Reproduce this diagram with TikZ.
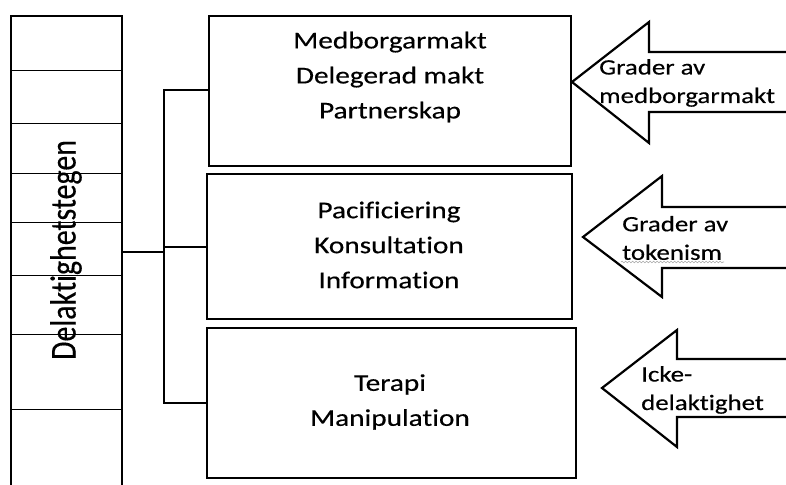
\documentclass[tikz,border=0pt]{standalone}
\usepackage{fontspec}
\setmainfont{Carlito}
\newfontfamily\boxfont[FakeStretch=1.22, FakeBold=0.4, Ligatures={NoCommon}]{Carlito}
\newfontfamily\ladfont[FakeStretch=0.82, FakeBold=0.3, Ligatures={NoCommon}]{Carlito}
\usetikzlibrary{decorations.pathmorphing}
\tikzset{
  rung/.style={line width=0.9pt},
  conn/.style={line width=1.8pt},
  levelbox/.style={draw, line width=2.4pt, anchor=north west, inner sep=0pt},
  boxtext/.style={align=center, font=\boxfont\fontsize{24}{35}\selectfont},
  arrowtext/.style={align=left, anchor=west, inner sep=0pt, font=\boxfont\fontsize{22}{28.5}\selectfont},
  blockarrow/.style={line width=2.2pt, line join=miter},
}
\begin{document}
\begin{tikzpicture}[x=1pt,y=-1pt]
\useasboundingbox (0,0) rectangle (786,484);
% ladder
\node[draw, line width=2.2pt, anchor=north west, minimum width=111pt, minimum height=480pt, inner sep=0pt] (ladder) at (10,15) {};
\foreach \yy in {70,123,173,222,275,334,409} {
  \draw[rung] (ladder.west |- 0,\yy) -- (ladder.east |- 0,\yy);
}
\node[rotate=90, font=\ladfont\fontsize{36.5}{40}\selectfont, inner sep=0pt] (ladtext) at (66,250) {Delaktighetstegen};
% boxes
\node[levelbox, minimum width=362pt, minimum height=150pt] (b1) at (208,15) {};
\node[levelbox, minimum width=365pt, minimum height=145pt] (b2) at (206,173) {};
\node[levelbox, minimum width=369pt, minimum height=150pt] (b3) at (206,327) {};
\node[boxtext] (t1) at (390,77) {Medborgarmakt\\Delegerad makt\\Partnerskap};
\node[boxtext] (t2) at (389,245) {Pacificiering\\Konsultation\\Information};
\node[boxtext] (t3) at (390,402) {Terapi\\Manipulation};
% connectors
\coordinate (j0) at (164,252);
\coordinate (jt) at (164,90);
\coordinate (jm) at (164,247);
\coordinate (jb) at (164,403);
\draw[conn] (ladder.east |- j0) -- (j0);
\draw[conn] (b1.west |- jt) -- (jt) -- (jb) -- (b3.west |- jb);
\draw[conn] (jm) -- (b2.west |- jm);
% arrows
\draw[blockarrow] (790,52) -- (649,52) -- (649,22) -- (572,82) -- (649,143) -- (649,112) -- (790,112);
\node[arrowtext] (a1) at (599,83) {Grader av\\medborgarmakt};
\draw[blockarrow] (790,207) -- (662,207) -- (662,176) -- (583,237) -- (662,297) -- (662,268) -- (790,268);
\node[arrowtext] (a2) at (622,238) {Grader av\\tokenism};
\draw[gray!70, line width=0.6pt, decorate, decoration={snake, amplitude=0.8pt, segment length=3.5pt}] (621,262) -- (724,262);
\draw[blockarrow] (790,359) -- (677,359) -- (677,330) -- (602,388) -- (677,447) -- (677,417) -- (790,417);
\node[arrowtext] (a3) at (641,390) {Icke-\\delaktighet};
\end{tikzpicture}
\end{document}
